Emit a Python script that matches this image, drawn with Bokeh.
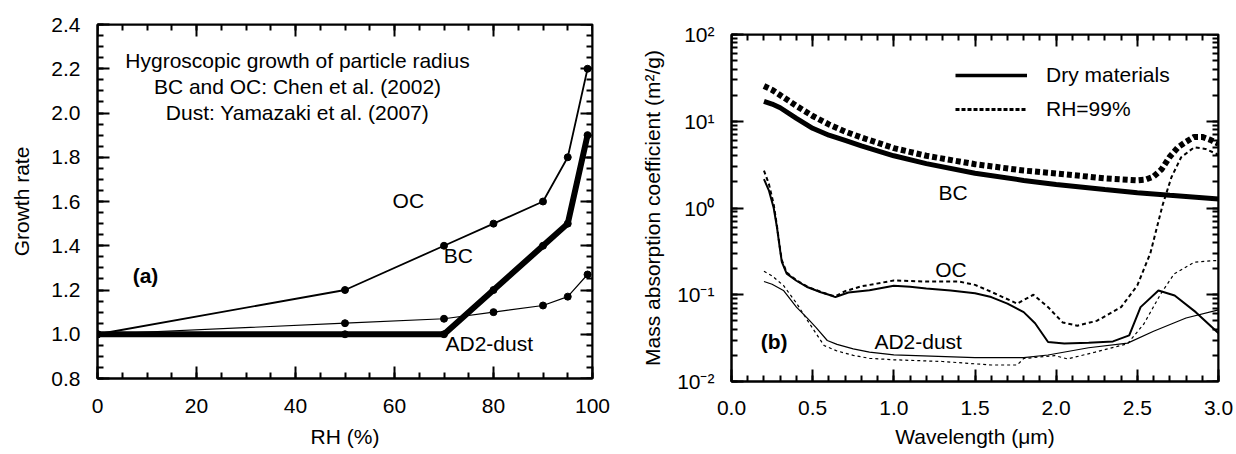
from bokeh.plotting import figure
from bokeh.layouts import row, column
from bokeh.models import (LinearAxis, LogAxis, FixedTicker, CustomJSTickFormatter,
                          NumeralTickFormatter, Legend, LegendItem, ColumnDataSource)
from bokeh.core.properties import value
from bokeh.embed import file_html
from bokeh.resources import INLINE

FONT = "Liberation Sans"
FS = "21px"

# ---------------- Panel (a) data ----------------
rh = [0, 50, 70, 80, 90, 95, 99]
growth_oc = [1.0, 1.2, 1.4, 1.5, 1.6, 1.8, 2.2]
growth_bc = [1.0, 1.0, 1.0, 1.2, 1.4, 1.5, 1.9]
growth_dust = [1.0, 1.05, 1.07, 1.1, 1.13, 1.17, 1.27]

rh_ticks = [0, 20, 40, 60, 80, 100]
rh_minor = [0, 5, 10, 15, 20, 25, 30, 35, 40, 45, 50, 55, 60, 65, 70, 75, 80, 85, 90, 95, 100]
gr_ticks = [0.8, 1.0, 1.2, 1.4, 1.6, 1.8, 2.0, 2.2, 2.4]
gr_minor = [0.8, 0.85, 0.9, 0.95, 1.0, 1.05, 1.1, 1.15, 1.2, 1.25, 1.3, 1.35, 1.4, 1.45,
            1.5, 1.55, 1.6, 1.65, 1.7, 1.75, 1.8, 1.85, 1.9, 1.95, 2.0, 2.05, 2.1, 2.15,
            2.2, 2.25, 2.3, 2.35, 2.4]
rh_range = (0, 100)
gr_range = (0.8, 2.4)

a_labels = ["OC", "BC", "AD2-dust"]
a_label_x = [62.8, 72.9, 70.3]
a_label_y = [1.605, 1.356, 0.958]
a_note = ["Hygroscopic growth of particle radius", "BC and OC: Chen et al. (2002)",
          "Dust: Yamazaki et al. (2007)"]
a_note_x = [40.4, 40.4, 40.4]
a_note_y = [2.237, 2.12, 2.002]

# ---------------- Panel (b) data ----------------
wl_bc_dry = [0.2, 0.25, 0.3, 0.4, 0.5, 0.6, 0.7, 0.8, 1.0, 1.2, 1.5, 1.8, 2.0, 2.3, 2.5, 2.7, 3.0]
bc_dry = [17.0, 15.8, 14.3, 10.8, 8.3, 6.9, 6.0, 5.2, 4.0, 3.25, 2.52, 2.08, 1.87, 1.63, 1.5, 1.4, 1.27]

wl_bc_wet = [0.2, 0.25, 0.3, 0.4, 0.5, 0.6, 0.7, 0.8, 1.0, 1.2, 1.5, 1.8, 2.0, 2.3, 2.5,
             2.55, 2.6, 2.65, 2.7, 2.75, 2.8, 2.85, 2.9, 2.95, 3.0]
bc_wet = [25.5, 23.0, 20.0, 15.0, 11.5, 9.2, 7.6, 6.5, 4.9, 4.0, 3.2, 2.7, 2.5, 2.2, 2.08,
          2.12, 2.3, 2.8, 3.9, 5.0, 5.8, 6.6, 6.6, 6.1, 5.5]

wl_oc_dry = [0.2, 0.23, 0.26, 0.28, 0.3, 0.31, 0.34, 0.4, 0.47, 0.55, 0.6, 0.64, 0.68, 0.72,
             0.85, 1.0, 1.1, 1.2, 1.35, 1.5, 1.6, 1.7, 1.8, 1.87, 1.95, 2.05, 2.2, 2.35,
             2.45, 2.52, 2.63, 2.73, 2.86, 3.0]
oc_dry = [2.15, 1.6, 1.0, 0.6, 0.32, 0.24, 0.175, 0.145, 0.122, 0.107, 0.1, 0.094, 0.1, 0.106,
          0.113, 0.127, 0.124, 0.118, 0.112, 0.104, 0.094, 0.079, 0.063, 0.047, 0.0285,
          0.0275, 0.028, 0.029, 0.034, 0.072, 0.112, 0.098, 0.063, 0.036]

wl_oc_wet = [0.2, 0.23, 0.26, 0.28, 0.3, 0.31, 0.34, 0.4, 0.47, 0.55, 0.6, 0.64, 0.7, 0.8,
             1.0, 1.2, 1.4, 1.5, 1.6, 1.76, 1.86, 1.95, 2.04, 2.13, 2.25, 2.4, 2.5, 2.58,
             2.655, 2.71, 2.77, 2.85, 2.92, 3.0]
oc_wet = [2.7, 1.9, 1.1, 0.62, 0.33, 0.25, 0.18, 0.147, 0.123, 0.108, 0.1, 0.096, 0.11, 0.125,
          0.146, 0.142, 0.142, 0.13, 0.108, 0.079, 0.1, 0.072, 0.048, 0.044, 0.05, 0.072,
          0.128, 0.3, 1.07, 2.26, 3.85, 5.0, 4.8, 4.1]

wl_dust_dry = [0.2, 0.25, 0.32, 0.4, 0.47, 0.52, 0.59, 0.65, 0.75, 0.85, 1.0, 1.5, 1.8,
               1.95, 2.2, 2.44, 2.6, 2.8, 3.0]
dust_dry = [0.142, 0.132, 0.112, 0.072, 0.053, 0.042, 0.0297, 0.0268, 0.0238, 0.0218, 0.0203,
            0.0188, 0.0188, 0.0202, 0.0245, 0.0277, 0.038, 0.054, 0.067]

wl_dust_wet = [0.2, 0.25, 0.32, 0.4, 0.47, 0.52, 0.57, 0.65, 0.75, 0.85, 1.0, 1.3, 1.6, 1.76,
               1.8, 1.99, 2.07, 2.24, 2.44, 2.54, 2.645, 2.727, 2.85, 2.97, 3.0]
dust_wet = [0.187, 0.165, 0.128, 0.08, 0.05, 0.036, 0.026, 0.0225, 0.02, 0.0185, 0.0178, 0.017,
            0.0155, 0.0155, 0.0184, 0.0199, 0.0182, 0.0218, 0.0273, 0.046, 0.103, 0.174,
            0.237, 0.248, 0.248]

wl_ticks = [0.0, 0.5, 1.0, 1.5, 2.0, 2.5, 3.0]
wl_minor = [0.0, 0.1, 0.2, 0.3, 0.4, 0.5, 0.6, 0.7, 0.8, 0.9, 1.0, 1.1, 1.2, 1.3, 1.4, 1.5,
            1.6, 1.7, 1.8, 1.9, 2.0, 2.1, 2.2, 2.3, 2.4, 2.5, 2.6, 2.7, 2.8, 2.9, 3.0]
mac_ticks = [0.01, 0.1, 1, 10, 100]
mac_minor = [m * d for d in [0.01, 0.1, 1, 10] for m in range(1, 10)] + [100]
wl_range = (0, 3)
mac_range = (0.01, 100)

b_labels = ["BC", "OC", "AD2-dust"]
b_label_x = [1.365, 1.352, 1.15]
b_label_y = [1.49, 0.194, 0.029]
legend_labels = ["Dry materials", "RH=99%"]


def style_axis(ax, labels=True):
    ax.axis_line_width = 2
    ax.axis_line_color = "black"
    ax.major_tick_in = 12
    ax.major_tick_out = 0
    ax.minor_tick_in = 6
    ax.minor_tick_out = 0
    ax.major_tick_line_width = 2
    ax.minor_tick_line_width = 2
    ax.major_tick_line_color = "black"
    ax.minor_tick_line_color = "black"
    ax.major_label_text_font = FONT
    ax.major_label_text_font_size = FS
    ax.major_label_text_color = "black"
    ax.axis_label_text_font = FONT
    ax.axis_label_text_font_size = FS
    ax.axis_label_text_font_style = "normal"
    ax.axis_label_text_color = "black"
    if not labels:
        ax.formatter = CustomJSTickFormatter(code="return ''")
        ax.major_label_text_font_size = "0px"
        ax.major_label_standoff = 0


# ---------------- Panel (a) ----------------
p1 = figure(frame_width=495, frame_height=354, x_range=rh_range, y_range=gr_range,
            output_backend="svg", toolbar_location=None,
            min_border_left=97, min_border_top=24, min_border_bottom=76, min_border_right=20)
p1.title = None
p1.grid.visible = False
p1.outline_line_color = "black"
p1.outline_line_width = 2
p1.xaxis.ticker = FixedTicker(ticks=rh_ticks, minor_ticks=rh_minor)
p1.yaxis.ticker = FixedTicker(ticks=gr_ticks, minor_ticks=gr_minor)
p1.yaxis.formatter = NumeralTickFormatter(format="0.0")
p1.xaxis.axis_label = "RH (%)"
p1.yaxis.axis_label = "Growth rate"
for ax in p1.xaxis + p1.yaxis:
    style_axis(ax)
p1.xaxis.major_label_standoff = 20
p1.yaxis.major_label_standoff = 17
p1.xaxis.axis_label_standoff = 9
p1.yaxis.axis_label_standoff = 15
ax_r = LinearAxis(ticker=FixedTicker(ticks=gr_ticks, minor_ticks=gr_minor),
                  fixed_location=rh_range[1])
style_axis(ax_r, labels=False)
p1.add_layout(ax_r, "right")
ax_t = LinearAxis(ticker=FixedTicker(ticks=rh_ticks, minor_ticks=rh_minor),
                  fixed_location=gr_range[1])
style_axis(ax_t, labels=False)
p1.add_layout(ax_t, "above")

p1.line(rh, growth_bc, line_color="black", line_width=6)
p1.line(rh, growth_oc, line_color="black", line_width=1.8)
p1.line(rh, growth_dust, line_color="black", line_width=1.2)
p1.scatter(rh, growth_bc, size=7, color="black")
p1.scatter(rh, growth_oc, size=7, color="black")
p1.scatter(rh, growth_dust, size=7, color="black")

src_a = ColumnDataSource(dict(x=a_label_x[:2], y=a_label_y[:2], t=a_labels[:2]))
p1.text(x="x", y="y", text="t", source=src_a, text_font=value(FONT), text_font_size=FS,
        text_align="center", text_baseline="middle", text_color="black")
p1.text(x=[a_label_x[2]], y=[a_label_y[2]], text=[a_labels[2]], text_font=value(FONT),
        text_font_size=FS, text_align="left", text_baseline="middle", text_color="black")
p1.text(x=a_note_x, y=a_note_y, text=a_note, text_font=value(FONT), text_font_size=FS,
        text_align="center", text_baseline="middle", text_color="black")
p1.text(x=[9.7], y=[1.266], text=["(a)"], text_font=value(FONT), text_font_size=FS,
        text_font_style="bold", text_align="center", text_baseline="middle", text_color="black")

# ---------------- Panel (b) ----------------
p2 = figure(frame_width=487, frame_height=347, x_range=wl_range, y_range=mac_range,
            y_axis_type="log", output_backend="svg", toolbar_location=None,
            min_border_left=119, min_border_top=34, min_border_bottom=73, min_border_right=18)
p2.title = None
p2.grid.visible = False
p2.outline_line_color = "black"
p2.outline_line_width = 2
sup_code = """
const sup = {"-": "\u207b", "0": "\u2070", "1": "\u00b9", "2": "\u00b2", "3": "\u00b3"};
const e = Math.round(Math.log10(tick));
return "10" + String(e).split("").map(c => sup[c]).join("");
"""
p2.xaxis.ticker = FixedTicker(ticks=wl_ticks, minor_ticks=wl_minor)
p2.xaxis.formatter = NumeralTickFormatter(format="0.0")
p2.yaxis.ticker = FixedTicker(ticks=mac_ticks, minor_ticks=mac_minor)
p2.yaxis.formatter = CustomJSTickFormatter(code=sup_code)
p2.xaxis.axis_label = "Wavelength (\u03bcm)"
p2.yaxis.axis_label = "Mass absorption coefficient (m\u00b2/g)"
for ax in p2.xaxis + p2.yaxis:
    style_axis(ax)
p2.xaxis.major_label_standoff = 19
p2.yaxis.major_label_standoff = 17
p2.xaxis.axis_label_standoff = 7
p2.yaxis.axis_label_standoff = 10
ax_r2 = LogAxis(ticker=FixedTicker(ticks=mac_ticks, minor_ticks=mac_minor),
                fixed_location=wl_range[1])
style_axis(ax_r2, labels=False)
p2.add_layout(ax_r2, "right")
ax_t2 = LinearAxis(ticker=FixedTicker(ticks=wl_ticks, minor_ticks=wl_minor),
                   fixed_location=mac_range[1])
style_axis(ax_t2, labels=False)
p2.add_layout(ax_t2, "above")

p2.line(wl_bc_dry, bc_dry, line_color="black", line_width=5)
p2.line(wl_bc_wet, bc_wet, line_color="black", line_width=6, line_dash="5 3")
p2.line(wl_oc_dry, oc_dry, line_color="black", line_width=2)
p2.line(wl_oc_wet, oc_wet, line_color="black", line_width=2, line_dash="4 3")
p2.line(wl_dust_dry, dust_dry, line_color="black", line_width=1.2)
p2.line(wl_dust_wet, dust_wet, line_color="black", line_width=1.2, line_dash="3 3")

nan = float("nan")
leg_dry = p2.line([nan], [nan], line_color="black", line_width=3.5)
leg_wet = p2.line([nan], [nan], line_color="black", line_width=3, line_dash="4 2")
legend = Legend(items=[LegendItem(label=legend_labels[0], renderers=[leg_dry]),
                       LegendItem(label=legend_labels[1], renderers=[leg_wet])],
                location=(224, 260), glyph_width=72, glyph_height=24, label_height=24,
                label_standoff=19, spacing=10, padding=0, margin=0,
                border_line_color=None, background_fill_alpha=0,
                label_text_font=FONT, label_text_font_size=FS, label_text_color="black")
p2.add_layout(legend)

p2.text(x=b_label_x[:2], y=b_label_y[:2], text=b_labels[:2], text_font=value(FONT),
        text_font_size=FS, text_align="center", text_baseline="middle", text_color="black")
p2.text(x=[b_label_x[2]], y=[b_label_y[2]], text=[b_labels[2]], text_font=value(FONT),
        text_font_size=FS, text_align="center", text_baseline="middle", text_color="black")
p2.text(x=[0.263], y=[0.029], text=["(b)"], text_font=value(FONT), text_font_size=FS,
        text_font_style="bold", text_align="center", text_baseline="middle", text_color="black")

layout = row(column(p1), column(p2))
open("out.html", "w").write(file_html(layout, INLINE))
